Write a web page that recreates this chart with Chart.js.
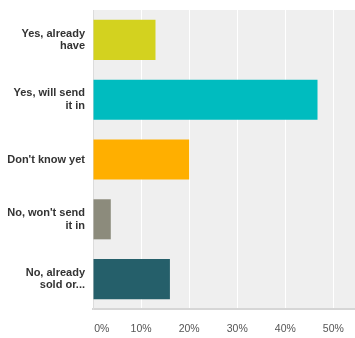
<!DOCTYPE html>
<html>
<head>
<meta charset="utf-8">
<script src="https://cdn.jsdelivr.net/npm/chart.js@4/dist/chart.umd.min.js"></script>
<style>
  html, body { margin: 0; padding: 0; background: #fff; }
  #wrap { width: 355px; height: 338px; position: relative; }
</style>
</head>
<body>
<div id="wrap"><canvas id="answers"></canvas></div>
<script>
const answerLabels = [
  ['Yes, already', 'have'],
  ['Yes, will send', 'it in'],
  "Don't know yet",
  ["No, won't send", 'it in'],
  ['No, already', 'sold or...']
];
const answerShares = [13, 46.7, 20, 3.7, 16];
const barColors = ['#d3d21f', '#00bcbf', '#ffaf00', '#8c8b7c', '#255f6a'];
const percentTicks = [0, 10, 20, 30, 40, 50];

// grey panel behind the bars
const panelBackground = {
  id: 'panelBackground',
  beforeDraw(chart) {
    const { ctx, chartArea } = chart;
    ctx.save();
    ctx.fillStyle = '#efefef';
    ctx.fillRect(chartArea.left, chartArea.top, chartArea.width, chartArea.height);
    ctx.restore();
  }
};

const ctx = document.getElementById('answers').getContext('2d');
new Chart(ctx, {
  type: 'bar',
  data: {
    labels: answerLabels,
    datasets: [{
      data: answerShares,
      backgroundColor: barColors,
      borderWidth: 0,
      barPercentage: 0.67,
      categoryPercentage: 1
    }]
  },
  options: {
    indexAxis: 'y',
    responsive: true,
    maintainAspectRatio: false,
    animation: false,
    layout: { padding: { top: 10, right: 0, bottom: 0, left: 0 } },
    plugins: {
      legend: { display: false },
      tooltip: { enabled: false }
    },
    scales: {
      x: {
        min: 0,
        max: 54.5,
        afterBuildTicks(scale) {
          scale.ticks = percentTicks.map(v => ({ value: v }));
        },
        afterFit(scale) {
          scale.height = 29;
          scale.paddingLeft = 0;
          scale.paddingRight = 0;
        },
        grid: { color: '#ffffff', lineWidth: 1, drawTicks: false },
        border: { display: true, color: '#d6d6d6', width: 2 },
        ticks: {
          padding: 14,
          color: '#555',
          font: { family: 'Liberation Sans', size: 10.5 },
          maxRotation: 0,
          callback: v => (v === 0 ? '\u2007\u2007\u20070%' : v + '%')
        }
      },
      y: {
        afterFit(scale) {
          scale.width = 93;
          scale.paddingTop = 0;
          scale.paddingBottom = 0;
        },
        grid: { display: false, drawTicks: false },
        border: { display: true, color: '#dcdcdc', width: 1 },
        ticks: {
          padding: 8,
          color: '#333',
          font: { family: 'Liberation Sans', size: 11, weight: 'bold', lineHeight: 1.15 }
        }
      }
    }
  },
  plugins: [panelBackground]
});
</script>
</body>
</html>
